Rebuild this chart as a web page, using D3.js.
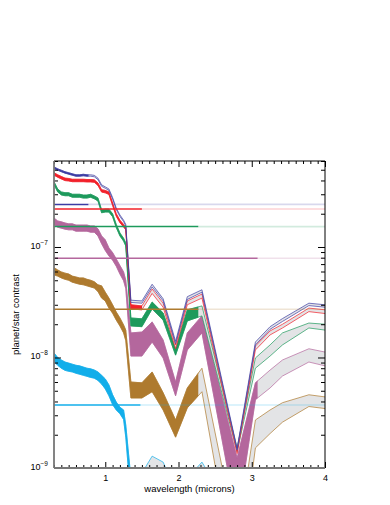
<!DOCTYPE html>
<html>
<head>
<meta charset="utf-8">
<script src="https://cdn.jsdelivr.net/npm/d3@7"></script>
<style>
body { margin: 0; background: #fff; }
svg { display: block; }
text { font-family: "Liberation Sans", Arial, sans-serif; fill: #000; }
</style>
</head>
<body>
<svg id="chart" width="390" height="505"></svg>
<script>
// wavelength grid (microns)
const wavelength = [0.30,0.35,0.40,0.45,0.50,0.55,0.60,0.65,0.70,0.75,0.80,0.85,0.90,0.95,1.00,1.05,1.10,1.15,1.20,1.25,1.28,1.35,1.50,1.64,1.79,1.96,2.12,2.32,2.80,3.05,3.25,3.42,3.78,4.00];

// contrast bands, upper / lower edge
const blueHi = [5.3e-7,5.1e-7,4.95e-7,4.8e-7,4.7e-7,4.6e-7,4.5e-7,4.5e-7,4.55e-7,4.5e-7,4.5e-7,4.45e-7,4.2e-7,3.65e-7,3.5e-7,3.35e-7,2.8e-7,2.25e-7,1.95e-7,1.75e-7,1.6e-7,3.3e-8,3.25e-8,4.6e-8,3.4e-8,1.4e-8,3.55e-8,4.1e-8,1.5e-9,1.38e-8,1.9e-8,2.25e-8,3.1e-8,3.0e-8];
const blueLo = [5.14e-7,4.95e-7,4.8e-7,4.66e-7,4.56e-7,4.46e-7,4.37e-7,4.37e-7,4.41e-7,4.37e-7,4.37e-7,4.32e-7,4.07e-7,3.54e-7,3.4e-7,3.25e-7,2.72e-7,2.18e-7,1.89e-7,1.7e-7,1.55e-7,3.15e-8,3.1e-8,4.35e-8,3.25e-8,1.33e-8,3.35e-8,3.9e-8,1.45e-9,1.3e-8,1.8e-8,2.12e-8,2.95e-8,2.85e-8];

const redHi = [4.7e-7,4.5e-7,4.35e-7,4.2e-7,4.17e-7,4.1e-7,4.1e-7,4.1e-7,4.1e-7,4.08e-7,4.08e-7,4.05e-7,3.8e-7,3.3e-7,3.25e-7,3.15e-7,2.5e-7,2.0e-7,1.75e-7,1.6e-7,1.5e-7,3.0e-8,2.93e-8,4.17e-8,3.1e-8,1.3e-8,3.25e-8,3.75e-8,1.43e-9,1.27e-8,1.74e-8,2.0e-8,2.8e-8,2.7e-8];
const redLo = [4.47e-7,4.28e-7,4.13e-7,3.99e-7,3.96e-7,3.9e-7,3.9e-7,3.9e-7,3.9e-7,3.88e-7,3.88e-7,3.85e-7,3.61e-7,3.14e-7,3.09e-7,2.99e-7,2.38e-7,1.9e-7,1.66e-7,1.52e-7,1.43e-7,2.75e-8,2.7e-8,3.8e-8,2.85e-8,1.2e-8,3.0e-8,3.45e-8,1.35e-9,1.17e-8,1.6e-8,1.85e-8,2.6e-8,2.5e-8];

const greenHi = [3.9e-7,3.35e-7,3.15e-7,3.1e-7,3.1e-7,3.0e-7,3.0e-7,3.0e-7,2.95e-7,2.95e-7,3.0e-7,2.9e-7,2.78e-7,2.17e-7,2.2e-7,2.2e-7,2.0e-7,1.6e-7,1.34e-7,1.2e-7,1.09e-7,2.28e-8,2.24e-8,3.18e-8,2.53e-8,1.2e-8,2.7e-8,2.93e-8,1.52e-9,9.9e-9,1.3e-8,1.67e-8,2.05e-8,2.0e-8];
const greenLo = [3.67e-7,3.15e-7,2.96e-7,2.91e-7,2.91e-7,2.82e-7,2.82e-7,2.82e-7,2.77e-7,2.77e-7,2.82e-7,2.73e-7,2.61e-7,2.04e-7,2.07e-7,2.07e-7,1.88e-7,1.5e-7,1.26e-7,1.13e-7,1.02e-7,1.93e-8,1.9e-8,2.75e-8,2.18e-8,1.05e-8,2.14e-8,2.38e-8,1.4e-9,8.0e-9,1.03e-8,1.3e-8,1.85e-8,1.77e-8];

const magentaHi = [1.83e-7,1.72e-7,1.69e-7,1.65e-7,1.62e-7,1.62e-7,1.58e-7,1.58e-7,1.58e-7,1.58e-7,1.55e-7,1.55e-7,1.46e-7,1.26e-7,1.16e-7,9.8e-8,8.9e-8,7.8e-8,6.8e-8,5.95e-8,5.0e-8,1.67e-8,1.7e-8,2.1e-8,1.44e-8,6.0e-9,1.67e-8,2.38e-8,1.23e-9,5.9e-9,7.7e-9,9.5e-9,1.2e-8,1.12e-8];
const magentaLo = [1.6e-7,1.51e-7,1.48e-7,1.45e-7,1.43e-7,1.43e-7,1.39e-7,1.39e-7,1.39e-7,1.39e-7,1.36e-7,1.36e-7,1.26e-7,1.07e-7,9.3e-8,8.3e-8,7.6e-8,6.7e-8,5.7e-8,4.95e-8,4.2e-8,1.03e-8,1.03e-8,1.38e-8,9.9e-9,4.5e-9,1.17e-8,1.67e-8,3.4e-10,4.15e-9,5.3e-9,6.8e-9,9.1e-9,8.4e-9];

const brownHi = [6.5e-8,6.2e-8,5.95e-8,5.8e-8,5.7e-8,5.45e-8,5.35e-8,5.25e-8,5.25e-8,5.1e-8,5.0e-8,4.85e-8,4.55e-8,4.45e-8,3.9e-8,3.45e-8,3.0e-8,2.58e-8,2.28e-8,1.97e-8,1.77e-8,6.0e-9,5.9e-9,7.4e-9,4.8e-9,2.72e-9,5.3e-9,8.0e-9,2.2e-10,2.72e-9,3.35e-9,3.9e-9,4.6e-9,4.4e-9];
const brownLo = [5.6e-8,5.45e-8,5.25e-8,5.1e-8,5.0e-8,4.8e-8,4.7e-8,4.6e-8,4.55e-8,4.45e-8,4.35e-8,4.25e-8,3.95e-8,3.45e-8,3.25e-8,2.8e-8,2.52e-8,2.18e-8,1.93e-8,1.67e-8,1.42e-8,4.3e-9,4.3e-9,4.9e-9,3.35e-9,1.9e-9,3.5e-9,4.9e-9,8e-11,1.52e-9,2.05e-9,2.6e-9,3.6e-9,3.45e-9];

const cyanHi = [1.1e-8,1.0e-8,9.5e-9,9.1e-9,8.9e-9,8.7e-9,8.5e-9,8.4e-9,8.2e-9,8.0e-9,7.9e-9,7.7e-9,7.4e-9,6.9e-9,6.4e-9,5.65e-9,4.6e-9,3.95e-9,3.55e-9,3.35e-9,2.45e-9,8.1e-10,9.0e-10,1.28e-9,1.13e-9,6.3e-10,8.1e-10,1.13e-9,3.4e-10,5.1e-10,5.7e-10,6.3e-10,6.6e-10,6.6e-10];
const cyanLo = [9.2e-9,8.5e-9,8.0e-9,7.65e-9,7.5e-9,7.4e-9,7.2e-9,7.05e-9,6.9e-9,6.75e-9,6.6e-9,6.5e-9,6.2e-9,5.75e-9,5.2e-9,4.5e-9,3.75e-9,3.35e-9,3.1e-9,2.75e-9,1.9e-9,5.1e-10,5.7e-10,7.8e-10,7.0e-10,4.2e-10,5.1e-10,7.0e-10,2.2e-10,3.4e-10,3.7e-10,4.2e-10,4.3e-10,4.3e-10];

// detection limits (horizontal lines) and wavelength where the solid part stops
const limitNames = ["blue","red","green","magenta","brown","cyan"];
const limitValues = [2.43e-7, 2.21e-7, 1.53e-7, 7.9e-8, 2.73e-8, 3.72e-9];
const limitEnds = [0.77, 1.50, 2.27, 3.08, 2.27, 1.48];

const xTickValues = [1, 2, 3, 4];
const yTickValues = [1e-9, 1e-8, 1e-7];
const yTickExps = ["\u22129", "\u22128", "\u22127"];

const colors = {
  blue: "#3c3ca4", red: "#f2202a", green: "#1d9a5c",
  magenta: "#b4679d", brown: "#ae7a2e", cyan: "#12aeea"
};

const bands = [
  { name: "cyan", hi: cyanHi, lo: cyanLo },
  { name: "brown", hi: brownHi, lo: brownLo },
  { name: "magenta", hi: magentaHi, lo: magentaLo },
  { name: "green", hi: greenHi, lo: greenLo },
  { name: "red", hi: redHi, lo: redLo },
  { name: "blue", hi: blueHi, lo: blueLo }
];

var svg = d3.select("#chart");
var pLeft = 54, pRight = 325, pTop = 161, pBottom = 468;

var x = d3.scaleLinear().domain([0.3, 4]).range([pLeft, pRight]);
var y = d3.scaleLog().domain([1e-9, 6e-7]).range([pBottom, pTop]);

var defs = svg.append("defs");
defs.append("clipPath").attr("id", "plotclip")
  .append("rect").attr("x", pLeft).attr("y", pTop)
  .attr("width", pRight - pLeft).attr("height", pBottom - pTop);

var plot = svg.append("g").attr("clip-path", "url(#plotclip)");

bands.forEach(function(b) {
  var k = limitNames.indexOf(b.name);
  var cut = limitEnds[k];
  var col = colors[b.name];
  var rows = wavelength.map(function(w, i) { return { w: w, hi: b.hi[i], lo: b.lo[i] }; });

  var area = d3.area()
    .x(function(d) { return x(d.w); })
    .y0(function(d) { return y(d.lo); })
    .y1(function(d) { return y(d.hi); });

  // grey envelope with thin coloured edges
  plot.append("path").attr("d", area(rows))
    .attr("fill", "#e3e4e6").attr("stroke", "none");
  ["hi", "lo"].forEach(function(key) {
    plot.append("path")
      .attr("d", d3.line().x(function(d) { return x(d.w); }).y(function(d) { return y(d[key]); })(rows))
      .attr("fill", "none").attr("stroke", col).attr("stroke-width", 0.7);
  });

  // solid part up to the limit wavelength
  defs.append("clipPath").attr("id", "cut-" + b.name)
    .append("rect").attr("x", pLeft).attr("y", pTop)
    .attr("width", x(cut) - pLeft).attr("height", pBottom - pTop);
  plot.append("g").attr("clip-path", "url(#cut-" + b.name + ")")
    .append("path").attr("d", area(rows))
    .attr("fill", col).attr("stroke", col).attr("stroke-width", 0.5);
});

// horizontal limit lines
limitNames.forEach(function(name, i) {
  var yy = y(limitValues[i]);
  plot.append("line")
    .attr("x1", x(limitEnds[i])).attr("x2", pRight)
    .attr("y1", yy).attr("y2", yy)
    .attr("stroke", colors[name]).attr("stroke-opacity", 0.2).attr("stroke-width", 1.6);
  plot.append("line")
    .attr("x1", pLeft).attr("x2", x(limitEnds[i]))
    .attr("y1", yy).attr("y2", yy)
    .attr("stroke", colors[name]).attr("stroke-width", 1.5);
});

// axes
var xMinor = d3.range(3, 41).filter(function(d) { return d % 10 !== 0; }).map(function(d) { return d / 10; });
var yMinor = y.ticks().filter(function(d) { return yTickValues.indexOf(d) < 0; });

function clean(g) { g.select(".domain").remove(); g.selectAll("line").attr("stroke", "#000"); }

svg.append("g").attr("transform", "translate(0," + pBottom + ")")
  .call(d3.axisBottom(x).tickValues(xTickValues).tickSizeInner(-6).tickSizeOuter(0).tickPadding(7).tickFormat(d3.format("d")))
  .call(clean)
  .call(function(g) { g.selectAll("text").attr("font-size", 9).attr("font-family", "Liberation Sans, Arial, sans-serif"); });
svg.append("g").attr("transform", "translate(0," + pBottom + ")")
  .call(d3.axisBottom(x).tickValues(xMinor).tickSizeInner(-3).tickSizeOuter(0).tickFormat(""))
  .call(clean);
svg.append("g").attr("transform", "translate(0," + pTop + ")")
  .call(d3.axisTop(x).tickValues(xTickValues).tickSizeInner(-6).tickSizeOuter(0).tickFormat(""))
  .call(clean);
svg.append("g").attr("transform", "translate(0," + pTop + ")")
  .call(d3.axisTop(x).tickValues(xMinor).tickSizeInner(-3).tickSizeOuter(0).tickFormat(""))
  .call(clean);

svg.append("g").attr("transform", "translate(" + pLeft + ",0)")
  .call(d3.axisLeft(y).tickValues(yTickValues).tickSizeInner(-7).tickSizeOuter(0).tickFormat(""))
  .call(clean);
svg.append("g").attr("transform", "translate(" + pLeft + ",0)")
  .call(d3.axisLeft(y).tickValues(yMinor).tickSizeInner(-4).tickSizeOuter(0).tickFormat(""))
  .call(clean);
svg.append("g").attr("transform", "translate(" + pRight + ",0)")
  .call(d3.axisRight(y).tickValues(yTickValues).tickSizeInner(-7).tickSizeOuter(0).tickFormat(""))
  .call(clean);
svg.append("g").attr("transform", "translate(" + pRight + ",0)")
  .call(d3.axisRight(y).tickValues(yMinor).tickSizeInner(-4).tickSizeOuter(0).tickFormat(""))
  .call(clean);

// frame
svg.append("line").attr("x1", pLeft).attr("x2", pRight).attr("y1", pTop).attr("y2", pTop).attr("stroke", "#000").attr("stroke-width", 1);
svg.append("line").attr("x1", pRight).attr("x2", pRight).attr("y1", pTop).attr("y2", pBottom).attr("stroke", "#000").attr("stroke-width", 1);
svg.append("line").attr("x1", pLeft).attr("x2", pLeft).attr("y1", pTop).attr("y2", pBottom).attr("stroke", "#777").attr("stroke-width", 1.8);
svg.append("line").attr("x1", pLeft).attr("x2", pRight).attr("y1", pBottom).attr("y2", pBottom).attr("stroke", "#777").attr("stroke-width", 1.8);

// y tick labels 10^n
yTickValues.forEach(function(v, i) {
  var t = svg.append("text")
    .attr("x", pLeft - 6).attr("y", y(v) + 2)
    .attr("text-anchor", "end").attr("font-size", 9);
  t.append("tspan").text("10");
  t.append("tspan").attr("dy", -4).attr("font-size", 6.5).text(yTickExps[i]);
});

// axis titles
svg.append("text")
  .attr("x", (pLeft + pRight) / 2).attr("y", 492)
  .attr("text-anchor", "middle").attr("font-size", 9.5)
  .text("wavelength (microns)");
svg.append("text")
  .attr("transform", "translate(19," + ((pTop + pBottom) / 2) + ") rotate(-90)")
  .attr("text-anchor", "middle").attr("font-size", 9.5)
  .text("planet/star contrast");
</script>
</body>
</html>
